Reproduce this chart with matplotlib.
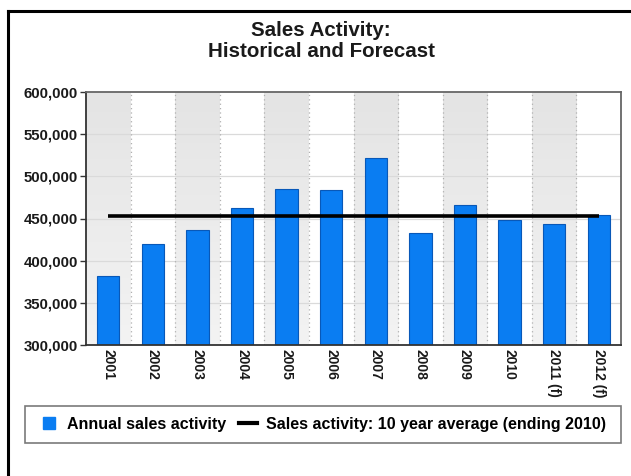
import matplotlib
matplotlib.use("Agg")
import matplotlib.pyplot as plt
import numpy as np
from matplotlib.lines import Line2D
from matplotlib.patches import Rectangle
from matplotlib.colors import LinearSegmentedColormap
from matplotlib.ticker import FuncFormatter

plt.rcParams['font.family'] = ['Liberation Sans', 'DejaVu Sans']
plt.rcParams['font.weight'] = 'bold'

# ---- data ----
years = ["2001", "2002", "2003", "2004", "2005", "2006", "2007", "2008",
         "2009", "2010", "2011 (f)", "2012 (f)"]
annual_sales = [382000, 420000, 436000, 462000, 485000, 484000, 522000,
                433000, 466000, 448000, 443000, 454000]
ten_year_average = 453500
y_ticks = [300000, 350000, 400000, 450000, 500000, 550000, 600000]

bar_label = "Annual sales activity"
avg_label = "Sales activity: 10 year average (ending 2010)"
title_text = "Sales Activity:\nHistorical and Forecast"

W, H = 631, 476
fig = plt.figure(figsize=(W / 100, H / 100), dpi=100)
fig.patch.set_facecolor("white")

ax = fig.add_axes([86 / W, 1 - 345 / H, (621 - 86) / W, (345 - 92) / H])
x = np.arange(len(years))
ymin, ymax = y_ticks[0], y_ticks[-1]

# alternating shaded columns with a soft vertical gradient
band_cmap = LinearSegmentedColormap.from_list("band", ["#f3f3f3", "#e4e4e4"])
grad = np.linspace(0, 1, 64).reshape(-1, 1)
for i in x:
    if i % 2 == 0:
        ax.imshow(grad, cmap=band_cmap, origin="lower", aspect="auto",
                  extent=(i - 0.5, i + 0.5, ymin, ymax), zorder=0)

# grid lines
for t in y_ticks[1:-1]:
    ax.axhline(t, color="#dadada", lw=0.9, zorder=1)
for i in x[:-1]:
    ax.axvline(i + 0.5, color="#b0b0b0", lw=0.9, ls=(0, (1, 2.5)), zorder=1)

ax.bar(x, annual_sales, width=0.5, color="#0a7df2", edgecolor="#0858b8",
       linewidth=0.8, zorder=2)
ax.plot([x[0], x[-1]], [ten_year_average] * 2, color="black", lw=2.6,
        solid_capstyle="butt", zorder=3)

ax.set_xlim(-0.5, len(years) - 0.5)
ax.set_ylim(ymin, ymax)
ax.set_yticks(y_ticks)
ax.yaxis.set_major_formatter(FuncFormatter(lambda v, p: f"{int(v):,}"))
ax.set_xticks(x)
ax.set_xticklabels(years, rotation=-90, va="top", ha="center")
ax.tick_params(axis="y", length=4, width=1, color="#333333", pad=2,
               labelsize=10.8, labelcolor="#1a1a1a")
ax.tick_params(axis="x", length=0, pad=3, labelsize=10, labelcolor="#1a1a1a")

for side in ["left", "bottom"]:
    ax.spines[side].set_color("#333333")
    ax.spines[side].set_linewidth(1.3)
for side in ["top", "right"]:
    ax.spines[side].set_color("#666666")
    ax.spines[side].set_linewidth(1.3)

# title
fig.text(321 / W, 1 - 41 / H, title_text, ha="center", va="center",
         fontsize=14.8, fontweight="bold", color="#1a1a1a", linespacing=1.1)

# legend frame and entries
fig.add_artist(Rectangle((25 / W, 1 - 443 / H), (621 - 25) / W, 37 / H,
                         transform=fig.transFigure, facecolor="white",
                         edgecolor="#7a7a7a", lw=1.2))
handles = [
    Line2D([], [], marker="s", linestyle="none", markersize=9,
           markerfacecolor="#0a7df2", markeredgecolor="#0a7df2"),
    Line2D([], [], color="black", lw=3),
]
fig.legend(handles, [bar_label, avg_label], loc="center",
           bbox_to_anchor=(323 / W, 1 - 424.5 / H), ncol=2, frameon=False,
           fontsize=11.5, handlelength=1.1, handletextpad=0.6,
           columnspacing=0.8, borderpad=0.2)

# outer frame (left and top edges)
fig.add_artist(Line2D([8 / W, 8 / W], [0, 1 - 10.5 / H], color="black",
                      lw=2.2, transform=fig.transFigure))
fig.add_artist(Line2D([8 / W, 1], [1 - 10.5 / H, 1 - 10.5 / H], color="black",
                      lw=2.2, transform=fig.transFigure, solid_capstyle="projecting"))

fig.savefig("out.png", dpi=100)
